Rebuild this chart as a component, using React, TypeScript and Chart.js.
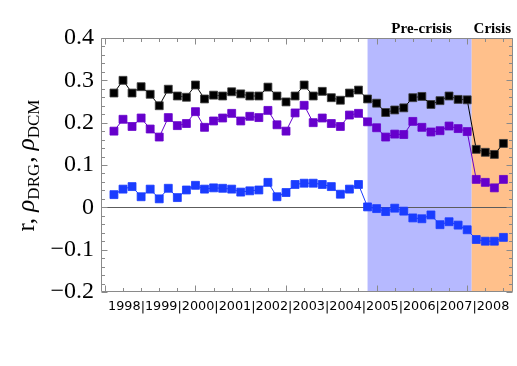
import React, { useEffect, useRef } from "react";
import { Chart, registerables } from "chart.js";

Chart.register(...registerables);

// ---------- data ----------
const years = ["1998", "1999", "2000", "2001", "2002", "2003", "2004", "2005", "2006", "2007", "2008"];

// quarterly values, 1998 Q1 ... 2008 Q4
const rSeries = [
  0.270, 0.300, 0.270, 0.285, 0.267, 0.240, 0.279, 0.263, 0.260, 0.289, 0.256, 0.265, 0.263, 0.273,
  0.268, 0.263, 0.263, 0.284, 0.263, 0.249, 0.263, 0.289, 0.263, 0.274, 0.259, 0.253, 0.270, 0.277,
  0.256, 0.246, 0.224, 0.230, 0.235, 0.259, 0.262, 0.243, 0.252, 0.263, 0.255, 0.254, 0.137, 0.130, 0.125, 0.151,
];
const rhoDRG = [
  0.180, 0.208, 0.191, 0.211, 0.185, 0.166, 0.212, 0.193, 0.198, 0.226, 0.189, 0.204, 0.211, 0.222,
  0.204, 0.215, 0.212, 0.229, 0.195, 0.180, 0.223, 0.241, 0.200, 0.211, 0.198, 0.191, 0.218, 0.222,
  0.202, 0.188, 0.166, 0.173, 0.172, 0.203, 0.189, 0.178, 0.181, 0.192, 0.186, 0.179, 0.066, 0.059, 0.046, 0.066,
];
const rhoDCM = [
  0.030, 0.043, 0.049, 0.025, 0.043, 0.020, 0.045, 0.023, 0.041, 0.052, 0.043, 0.046, 0.045, 0.043,
  0.036, 0.039, 0.041, 0.059, 0.025, 0.035, 0.054, 0.057, 0.057, 0.054, 0.049, 0.031, 0.043, 0.054,
  0.001, -0.003, -0.010, -0.002, -0.009, -0.025, -0.027, -0.018, -0.041, -0.034, -0.042, -0.053, -0.076, -0.080, -0.080, -0.071,
];

const yTicks = [-0.2, -0.1, 0, 0.1, 0.2, 0.3, 0.4];
const yTickLabels = ["\u22120.2", "\u22120.1", "0", "0.1", "0.2", "0.3", "0.4"];

const periodLabels = ["Pre-crisis", "Crisis"];
// period boundaries as quarter indices
const preCrisisStart = 28;
const crisisStart = 39.5;

const yTitleParts = [
  { text: "r, ", kind: "main" },
  { text: "\u03C1", kind: "greek" },
  { text: "DRG", kind: "sub" },
  { text: ", ", kind: "main" },
  { text: "\u03C1", kind: "greek" },
  { text: "DCM", kind: "sub" },
];

// ---------- styles ----------
const SERIF = '"Liberation Serif", "Times New Roman", serif';
const SANS = '"DejaVu Sans", Verdana, sans-serif';
const BLACK = "#000000";
const PURPLE = "#6600cc";
const BLUE = "#1a3cff";
const BLUE_SHADE = "#b6b9ff";
const ORANGE_SHADE = "#ffc08b";
const FRAME = "#8a8a8a";

const X_MIN = -1.43;
const X_MAX = 44.06;

// x tick layout: year labels with "|" separators between them
const xTickValues: number[] = [];
const xTickLabels: string[] = [];
const yearStep = 4.07;
years.forEach((yr, k) => {
  const c = 21.5 + (k - (years.length - 1) / 2) * yearStep;
  xTickValues.push(c);
  xTickLabels.push(yr);
  if (k < years.length - 1) {
    xTickValues.push(c + yearStep / 2);
    xTickLabels.push("|");
  }
});

const decorPlugin = {
  id: "decor",
  beforeDatasetsDraw(chart: any) {
    const { ctx, chartArea: a, scales } = chart;
    const xs = scales.x;
    const ys = scales.y;
    ctx.save();
    // period shading
    const p0 = xs.getPixelForValue(preCrisisStart);
    const p1 = xs.getPixelForValue(crisisStart);
    ctx.fillStyle = BLUE_SHADE;
    ctx.fillRect(p0, a.top, p1 - p0, a.bottom - a.top);
    ctx.fillStyle = ORANGE_SHADE;
    ctx.fillRect(p1, a.top, a.right - p1, a.bottom - a.top);

    // zero line
    const y0 = Math.round(ys.getPixelForValue(0)) + 0.5;
    ctx.strokeStyle = "#5c5c5c";
    ctx.lineWidth = 1;
    ctx.beginPath();
    ctx.moveTo(a.left, y0);
    ctx.lineTo(a.right, y0);
    ctx.stroke();

    // frame
    ctx.strokeStyle = FRAME;
    ctx.beginPath();
    const L = Math.round(a.left) + 0.5;
    const R = Math.round(a.right) - 0.5;
    const T = Math.round(a.top) + 0.5;
    const B = Math.round(a.bottom) - 0.5;
    ctx.rect(L, T, R - L, B - T);
    // y ticks
    for (let k = -10; k <= 20; k++) {
      const yy = Math.round(ys.getPixelForValue(k / 50)) + 0.5;
      const len = k % 5 === 0 ? 6 : 3.5;
      ctx.moveTo(L, yy);
      ctx.lineTo(L + len, yy);
      ctx.moveTo(R, yy);
      ctx.lineTo(R - len, yy);
    }
    // x ticks
    for (let i = -1; i <= 43; i += 2) {
      const xx = Math.round(xs.getPixelForValue(i)) + 0.5;
      const len = (i + 1) % 10 === 0 ? 6 : 3.5;
      ctx.moveTo(xx, B);
      ctx.lineTo(xx, B - len);
      ctx.moveTo(xx, T);
      ctx.lineTo(xx, T + len);
    }
    ctx.stroke();
    ctx.restore();
  },
  afterDraw(chart: any) {
    const { ctx, chartArea: a, scales } = chart;
    const xs = scales.x;
    ctx.save();
    // period titles
    ctx.fillStyle = "#000";
    ctx.font = `bold 15px ${SERIF}`;
    ctx.textAlign = "center";
    ctx.textBaseline = "alphabetic";
    const p0 = xs.getPixelForValue(preCrisisStart);
    const p1 = xs.getPixelForValue(crisisStart);
    ctx.fillText(periodLabels[0], (p0 + p1) / 2 + 2, 33);
    ctx.fillText(periodLabels[1], (p1 + a.right) / 2, 33);

    // y axis title with subscripts
    const fontFor = (kind: string) =>
      kind === "sub" ? `17px ${SERIF}` : kind === "greek" ? `italic 25px ${SERIF}` : `25px ${SERIF}`;
    let total = 0;
    const widths = yTitleParts.map((p) => {
      ctx.font = fontFor(p.kind);
      const w = ctx.measureText(p.text).width + (p.kind === "sub" ? 1 : 0);
      total += w;
      return w;
    });
    ctx.translate(33.5, (a.top + a.bottom) / 2);
    ctx.rotate(-Math.PI / 2);
    ctx.textAlign = "left";
    let x = -total / 2;
    yTitleParts.forEach((p, i) => {
      ctx.font = fontFor(p.kind);
      ctx.fillText(p.text, x, p.kind === "sub" ? 5 : 0);
      x += widths[i];
    });
    ctx.restore();
  },
};

function makeDataset(values: number[], color: string) {
  return {
    data: values.map((v, i) => ({ x: i, y: v })),
    borderColor: color,
    backgroundColor: color,
    borderWidth: 1,
    pointStyle: "rect" as const,
    pointRadius: 5.6,
    pointBorderWidth: 1,
    pointBorderColor: color === BLACK ? "rgba(60,60,60,0.8)" : color + "cc",
    pointBackgroundColor: color,
    tension: 0,
    fill: false,
  };
}

export default function App() {
  const ref = useRef<HTMLCanvasElement | null>(null);

  useEffect(() => {
    if (!ref.current) return;
    const chart = new Chart(ref.current, {
      type: "line",
      data: {
        datasets: [makeDataset(rhoDCM, BLUE), makeDataset(rhoDRG, PURPLE), makeDataset(rSeries, BLACK)],
      },
      options: {
        responsive: false,
        animation: false,
        events: [],
        layout: { autoPadding: false, padding: { left: 0, right: 4, top: 38, bottom: 0 } },
        plugins: { legend: { display: false }, tooltip: { enabled: false }, title: { display: false } },
        scales: {
          x: {
            type: "linear",
            min: X_MIN,
            max: X_MAX,
            grid: { display: false, drawTicks: false },
            border: { display: false },
            afterBuildTicks: (scale: any) => {
              scale.ticks = xTickValues.map((v) => ({ value: v }));
            },
            afterFit: (scale: any) => {
              scale.height = 74;
              scale.paddingLeft = 0;
              scale.paddingRight = 0;
            },
            ticks: {
              autoSkip: false,
              maxRotation: 0,
              minRotation: 0,
              padding: 7,
              color: "#000",
              font: { family: SANS, size: 12.8 },
              callback: (_v: any, i: number) => xTickLabels[i],
            },
          },
          y: {
            type: "linear",
            min: -0.2,
            max: 0.4,
            grid: { display: false, drawTicks: false },
            border: { display: false },
            afterBuildTicks: (scale: any) => {
              scale.ticks = yTicks.map((v) => ({ value: v }));
            },
            afterFit: (scale: any) => {
              scale.width = 101;
              scale.paddingTop = 0;
              scale.paddingBottom = 0;
            },
            ticks: {
              autoSkip: false,
              padding: 7,
              color: "#000",
              font: { family: SERIF, size: 24 },
              callback: (_v: any, i: number) => yTickLabels[i],
            },
          },
        },
      },
      plugins: [decorPlugin],
    } as any);
    return () => chart.destroy();
  }, []);

  return (
    <div style={{ position: "absolute", left: 0, top: 0, width: 517, height: 366, background: "#fff" }}>
      <canvas ref={ref} width={517} height={366} style={{ display: "block" }} />
    </div>
  );
}
